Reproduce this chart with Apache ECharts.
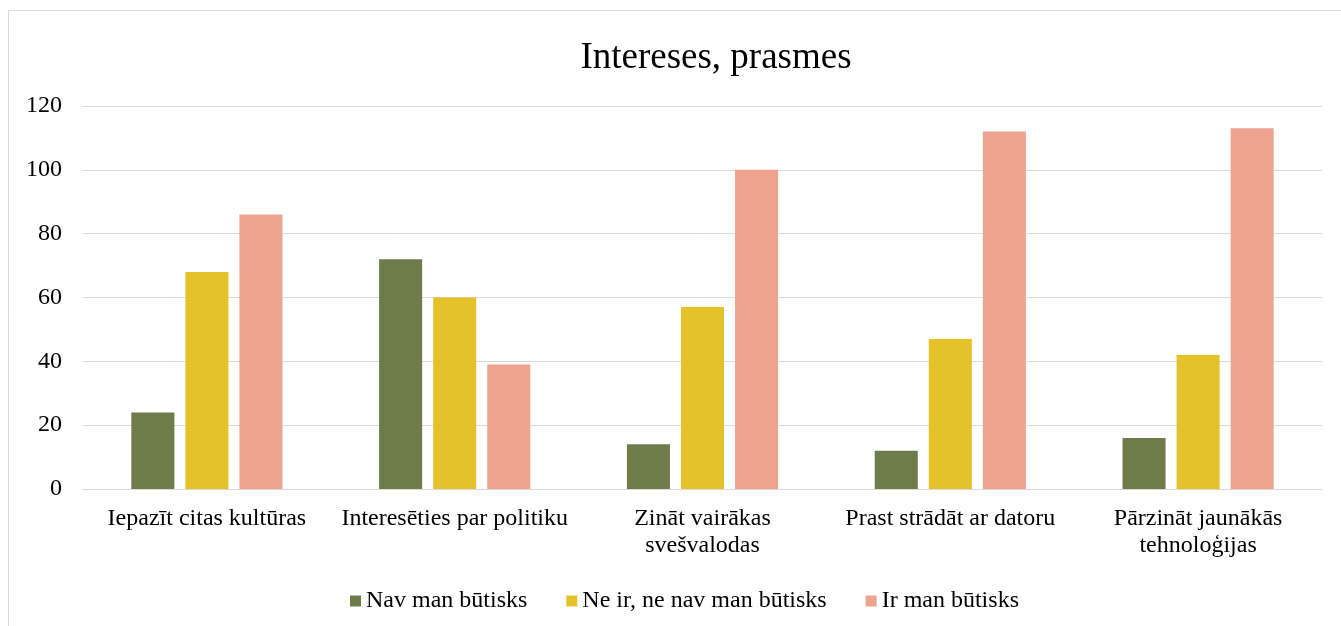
<!DOCTYPE html>
<html>
<head>
<meta charset="utf-8">
<script src="https://cdn.jsdelivr.net/npm/echarts@6/dist/echarts.min.js"></script>
<style>
html,body{margin:0;padding:0;background:#fff;}
#c{width:1341px;height:626px;}
</style>
</head>
<body>
<div id="c"></div>
<script>
const categories = ["Iepazīt citas kultūras", "Interesēties par politiku", "Zināt vairākas\nsvešvalodas", "Prast strādāt ar datoru", "Pārzināt jaunākās\ntehnoloģijas"];
const seriesNames = ["Nav man būtisks", "Ne ir, ne nav man būtisks", "Ir man būtisks"];
const navButisks = [24, 72, 14, 12, 16];
const neIrNeNav = [68, 60, 57, 47, 42];
const irButisks = [86, 39, 100, 112, 113];
const yTicks = [0, 20, 40, 60, 80, 100, 120];
const colors = ["#6E7B4B", "#E6C22A", "#EDA390"];

const font = '"Liberation Serif","Times New Roman",serif';
const chart = echarts.init(document.getElementById('c'), null, {renderer: 'canvas'});
const values = [navButisks, neIrNeNav, irButisks];
chart.setOption({
  animation: false,
  graphic: [{
    type: 'rect', silent: true,
    shape: {x: 8.5, y: 10.5, width: 1400, height: 700},
    style: {fill: 'none', stroke: '#D9D9D9', lineWidth: 1}
  }],
  title: {
    text: 'Intereses, prasmes', left: 711, top: 35, textAlign: 'center',
    textStyle: {fontFamily: font, fontSize: 37, fontWeight: 'normal', color: '#000'}
  },
  grid: {left: 83, right: 19, top: 106, bottom: 137},
  legend: {
    data: seriesNames, left: 345, top: 584, itemWidth: 11, itemHeight: 11,
    itemGap: 39, icon: 'rect',
    textStyle: {fontFamily: font, fontSize: 24, color: '#000'}
  },
  xAxis: {
    type: 'category', data: categories,
    axisLine: {lineStyle: {color: '#D9D9D9', width: 1}},
    axisTick: {show: false},
    axisLabel: {fontFamily: font, fontSize: 24, color: '#000', margin: 16, lineHeight: 27, interval: 0}
  },
  yAxis: {
    type: 'value', min: yTicks[0], max: yTicks[yTicks.length-1], interval: 20,
    axisLine: {show: false}, axisTick: {show: false},
    splitLine: {lineStyle: {color: '#D9D9D9', width: 1}},
    axisLabel: {fontFamily: font, fontSize: 24, color: '#000', margin: 21}
  },
  series: seriesNames.map((n, i) => ({
    name: n, type: 'bar', data: values[i],
    itemStyle: {color: colors[i]},
    barGap: '25.6%', barCategoryGap: '39%'
  }))
});
</script>
</body>
</html>
